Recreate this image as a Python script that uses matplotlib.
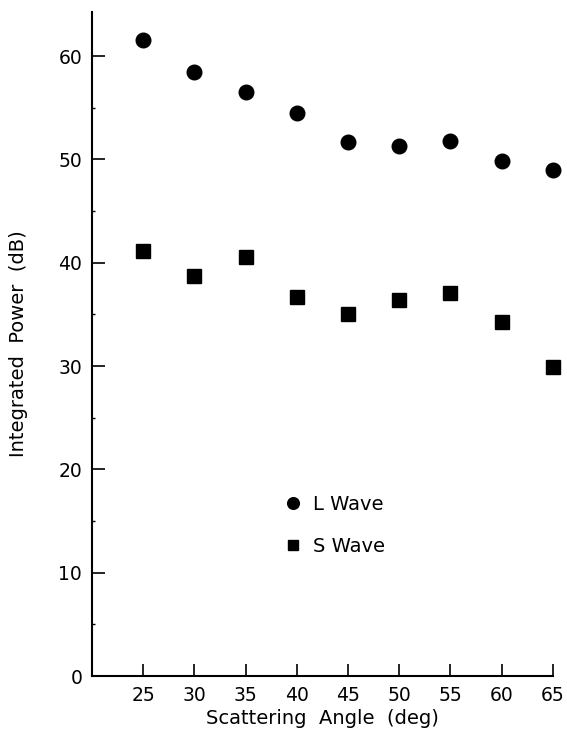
import numpy as np
from matplotlib import pyplot as plt

# scattering angles (deg) and integrated power (dB)
angles = [25, 30, 35, 40, 45, 50, 55, 60, 65]
l_wave = [61.6, 58.5, 56.5, 54.5, 51.7, 51.3, 51.8, 49.9, 49.0]
s_wave = [41.1, 38.7, 40.6, 36.7, 35.0, 36.4, 37.1, 34.3, 29.9]

xticks = [25, 30, 35, 40, 45, 50, 55, 60, 65]
yticks = [0, 10, 20, 30, 40, 50, 60]

fig = plt.figure(figsize=(5.67, 7.34), dpi=100)
ax = fig.add_axes([0.162, 0.079, 0.813, 0.905])

ax.plot(angles, l_wave, 'o', color='black', markersize=10.5, label='L Wave', clip_on=False)
ax.plot(angles, s_wave, 's', color='black', markersize=9.5, label='S Wave', clip_on=False)

ax.set_xlim(20, 65)
ax.set_ylim(0, 64.3)
ax.spines['top'].set_visible(False)
ax.spines['right'].set_visible(False)
ax.spines['left'].set_linewidth(1.5)
ax.spines['bottom'].set_linewidth(1.5)

ax.set_xticks(xticks)
ax.set_yticks(yticks)
ax.set_yticks(np.arange(5, 65, 10), minor=True)
ax.tick_params(axis='both', which='major', direction='in', length=9, width=1.2,
               labelsize=13.5, pad=7)
ax.tick_params(axis='y', which='minor', direction='in', length=2, width=1)

ax.set_xlabel('Scattering  Angle  (deg)', fontsize=14, labelpad=3)
ax.set_ylabel('Integrated  Power  (dB)', fontsize=14, labelpad=22)

ax.legend(loc='center left', bbox_to_anchor=(37.0, 14.6), bbox_transform=ax.transData,
          frameon=False, fontsize=14, handletextpad=0.5, labelspacing=1.2,
          handlelength=1.0, markerscale=0.8)

fig.savefig('out.png', dpi=100)
